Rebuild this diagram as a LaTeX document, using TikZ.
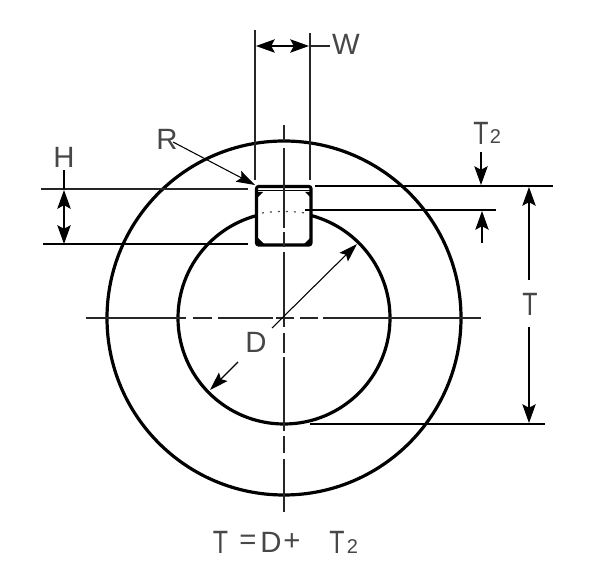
\documentclass[tikz,border=0pt]{standalone}
\usepackage{fontspec}
\setmainfont{Liberation Sans}
\usetikzlibrary{arrows.meta}
\newcommand{\tallT}{\scalebox{0.85}[1.1]{T}}
\tikzset{
  heavy/.style={line width=2.4pt,black},
  thin/.style={line width=0.95pt,black!85},
  med/.style={line width=1.1pt,black},
  hd/.tip={Stealth[length=14pt,width=10pt,inset=2.5pt]},
  dim/.style={line width=1pt,black,-hd},
  dimb/.style={line width=1pt,black,hd-hd},
  lead/.style={line width=0.8pt,black,-{Stealth[length=14pt,width=9pt,inset=2.5pt]}},
  lab/.style={inner sep=0pt,font=\fontsize{22}{22}\selectfont,text=black!72},
  sublab/.style={inner sep=0pt,font=\fontsize{15}{15}\selectfont,text=black!72}
}
\begin{document}
\begin{tikzpicture}[x=0.75pt,y=-0.75pt]
\useasboundingbox (0,0) rectangle (600,570);
\fill[white] (0,0) rectangle (600,570);
% circles
\coordinate (c) at (284,318);
\draw[heavy] (c) circle (177);
\draw[heavy] (c) circle (106);
% key: white out inner circle
\fill[white] (255,185) rectangle (312,245);
% dotted inner arc
\draw[line width=0.9pt,black!70,dash pattern=on 1.5pt off 4.5pt] (262,213) .. controls (275,211) and (293,211) .. (305,213);
% key
\draw[line width=2.3pt,black,rounded corners=1.5pt] (256.5,186.5) rectangle (311,245);
\draw[line width=0.9pt,black] (258,190.5) -- (310,190.5);
\fill[black] (258,192) -- (263,192) -- (258,197) -- cycle (310,192) -- (305,192) -- (310,197) -- cycle
  (258,244) -- (258,238) -- (264,244) -- cycle (310,244) -- (310,238) -- (304,244) -- cycle;
% centre lines
\draw[thin] (284,125) -- (284,141) (284,148) -- (284,228) (284,232) -- (284,247) (284,252) -- (284,327) (284,333) -- (284,353) (284,357) -- (284,431) (284,436) -- (284,453) (284,459) -- (284,512);
\draw[thin] (86,318) -- (186,318) (193,318) -- (212,318) (218,318) -- (273,318) (276,318) -- (294,318) (300,318) -- (318,318) (323,318) -- (481,318);
% extension lines
\coordinate (wl) at (255,30); \coordinate (wlb) at (255,180);
\coordinate (wr) at (310,33); \coordinate (wrb) at (310,180);
\draw[thin] (wl) -- (wlb) (wr) -- (wrb);
\draw[thin] (41,189) -- (248,189);
\draw[med] (43,244) -- (248,244);
\draw[med] (315,186) -- (553,186);
\draw[med] (305,210) -- (496,210);
\draw[med] (310,424) -- (545,424);
% W
\node[lab] (W) at (346,44) {W};
\coordinate (wa) at (256,46); \coordinate (wb) at (309,46);
\draw[dimb] (wa) -- (wb);
\draw[thin] (wb) -- (330,46);
% R
\node[lab] (R) at (167,139) {R};
\coordinate (rs) at (173,142); \coordinate (rt) at (255,185);
\draw[lead] (rs) -- (rt);
% H
\node[lab] (H) at (64,157) {H};
\coordinate (ha) at (64,190); \coordinate (hb) at (64,244);
\draw[med] (64,170) -- (64,189);
\draw[dimb] (ha) -- (hb);
% T2 top
\node[lab] (T2) at (481,133) {\tallT};
\node[sublab,anchor=base west] (T2s) at (489.5,144) {2};
\coordinate (t2a) at (481,152); \coordinate (t2b) at (481,185);
\draw[dim] (t2a) -- (t2b);
\coordinate (t2c) at (482,243); \coordinate (t2d) at (482,211);
\draw[dim] (t2c) -- (t2d);
% T
\node[lab] (T) at (530,304.5) {\tallT};
\coordinate (ta) at (529,280); \coordinate (tb) at (529,187);
\coordinate (tc) at (529,327); \coordinate (td) at (529,423);
\draw[dim] (ta) -- (tb);
\draw[dim] (tc) -- (td);
% D
\node[lab] (D) at (256,342) {D};
\coordinate (da) at (272,328); \coordinate (db) at (357,244);
\coordinate (dc) at (238,362); \coordinate (dd) at (210,390);
\draw[lead] (da) -- (db);
\draw[lead] (dc) -- (dd);
% formula
\node[lab] (F1) at (220.5,542.5) {\tallT};
\node[lab] (F2) at (248,542.5) {=};
\node[lab] (F3) at (271,542.5) {D};
\node[lab] (F4) at (292,542.5) {+};
\node[lab] (F5) at (337,542.5) {\tallT};
\node[sublab,anchor=base west] (F6) at (346.5,553) {2};
\end{tikzpicture}
\end{document}
